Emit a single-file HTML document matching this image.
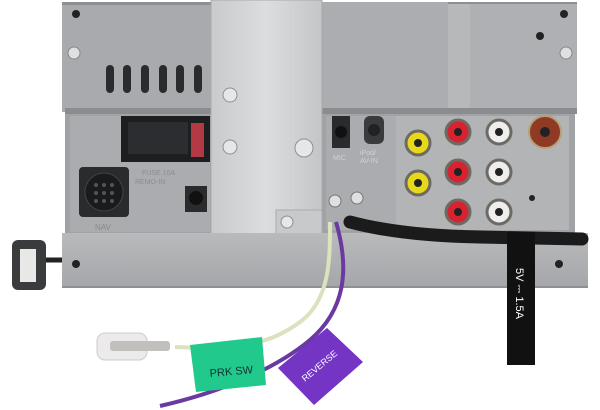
<!DOCTYPE html>
<html><head><meta charset="utf-8"><style>
html,body{margin:0;padding:0;background:#fff;width:600px;height:410px;overflow:hidden}
svg{display:block}
text{font-family:"Liberation Sans",sans-serif}
</style></head><body>
<svg width="600" height="410" viewBox="0 0 600 410" xmlns="http://www.w3.org/2000/svg">
<defs>
<linearGradient id="br" x1="0" x2="1" y1="0" y2="0"><stop offset="0" stop-color="#c9cacc"/><stop offset="0.5" stop-color="#dcdddf"/><stop offset="1" stop-color="#c4c5c7"/></linearGradient>
<linearGradient id="bar" x1="0" x2="0" y1="0" y2="1"><stop offset="0" stop-color="#b8babc"/><stop offset="1" stop-color="#a4a6a9"/></linearGradient>
</defs>
<!-- top chassis -->
<rect x="62" y="2" width="515" height="110" fill="#a8aaad"/>
<rect x="62" y="2" width="515" height="3" fill="#8d8f92"/>
<rect x="322" y="2" width="126" height="110" fill="#abadb0"/>
<rect x="448" y="4" width="22" height="106" fill="#b6b8ba"/>
<rect x="470" y="4" width="107" height="106" fill="#aeb0b3"/>
<rect x="322" y="108" width="255" height="6" fill="#8a8c8e"/>
<rect x="65" y="108" width="146" height="6" fill="#8a8c8e"/>
<!-- vents -->
<g fill="#2a2b2d">
<rect x="106" y="65" width="8" height="28" rx="4"/><rect x="123" y="65" width="8" height="28" rx="4"/><rect x="141" y="65" width="8" height="28" rx="4"/><rect x="159" y="65" width="8" height="28" rx="4"/><rect x="176" y="65" width="8" height="28" rx="4"/><rect x="194" y="65" width="8" height="28" rx="4"/>
</g>
<circle cx="76" cy="14" r="4" fill="#222"/><circle cx="564" cy="14" r="4" fill="#222"/><circle cx="540" cy="36" r="4" fill="#222"/>
<circle cx="74" cy="53" r="6" fill="#dfe0e2" stroke="#888"/><circle cx="566" cy="53" r="6" fill="#dfe0e2" stroke="#888"/>
<!-- lower panel -->
<rect x="65" y="114" width="510" height="120" fill="#a0a2a5"/>
<rect x="70" y="116" width="140" height="116" fill="#aaacaf"/>
<rect x="396" y="116" width="173" height="114" fill="#b2b4b6"/>
<rect x="326" y="116" width="70" height="114" fill="#aaacaf"/>
<!-- black connector -->
<rect x="121" y="116" width="89" height="46" fill="#1d1e20"/>
<rect x="128" y="122" width="60" height="32" fill="#2c2d30"/>
<rect x="191" y="123" width="13" height="34" fill="#b33a45"/>
<!-- NAV -->
<rect x="79" y="167" width="50" height="50" rx="4" fill="#2a2b2d"/>
<circle cx="104" cy="192" r="19" fill="#1a1b1d" stroke="#444"/>
<g fill="#555"><circle cx="96" cy="185" r="2"/><circle cx="104" cy="185" r="2"/><circle cx="112" cy="185" r="2"/><circle cx="96" cy="193" r="2"/><circle cx="104" cy="193" r="2"/><circle cx="112" cy="193" r="2"/><circle cx="96" cy="201" r="2"/><circle cx="104" cy="201" r="2"/><circle cx="112" cy="201" r="2"/></g>
<text x="95" y="230" font-size="8" fill="#888">NAV</text>
<text x="142" y="175" font-size="7" fill="#8a8c8f">FUSE 10A</text>
<text x="135" y="184" font-size="7" fill="#8a8c8f">REMO-IN</text>
<rect x="185" y="186" width="22" height="26" fill="#2a2b2d"/><circle cx="196" cy="198" r="7" fill="#111"/>
<!-- bracket -->
<rect x="211" y="0" width="111" height="235" fill="url(#br)" stroke="#a8a9ab"/>
<rect x="276" y="210" width="46" height="25" fill="#c8c9cb" stroke="#aaa"/>
<g fill="#e6e7e9" stroke="#8d8f92"><circle cx="230" cy="95" r="7"/><circle cx="230" cy="147" r="7"/><circle cx="304" cy="148" r="9"/><circle cx="287" cy="222" r="6"/></g>
<!-- jacks -->
<rect x="332" y="116" width="18" height="32" fill="#2a2b2d"/><circle cx="341" cy="132" r="6" fill="#111"/>
<rect x="364" y="116" width="20" height="28" rx="6" fill="#3a3b3d"/><circle cx="374" cy="130" r="6" fill="#222"/>
<text x="333" y="160" font-size="7" fill="#d0d1d3">MIC</text>
<text x="360" y="155" font-size="7" fill="#d0d1d3">iPod/</text>
<text x="360" y="163" font-size="7" fill="#d0d1d3">AV-IN</text>
<!-- RCA -->
<g stroke="#6d6a64" stroke-width="3">
<circle cx="418" cy="143" r="12" fill="#e8d81a"/><circle cx="418" cy="183" r="12" fill="#e8d81a"/>
<circle cx="458" cy="132" r="12" fill="#d82230"/><circle cx="458" cy="172" r="12" fill="#d82230"/><circle cx="458" cy="212" r="12" fill="#d82230"/>
<circle cx="499" cy="132" r="12" fill="#eeeeef"/><circle cx="499" cy="172" r="12" fill="#eeeeef"/><circle cx="499" cy="212" r="12" fill="#eeeeef"/>
</g>
<circle cx="545" cy="132" r="16" fill="#8e3a24" stroke="#b89f7a" stroke-width="2"/><circle cx="545" cy="132" r="5" fill="#222"/>
<g fill="#222"><circle cx="418" cy="143" r="4"/><circle cx="418" cy="183" r="4"/><circle cx="458" cy="132" r="4"/><circle cx="458" cy="172" r="4"/><circle cx="458" cy="212" r="4"/><circle cx="499" cy="132" r="4"/><circle cx="499" cy="172" r="4"/><circle cx="499" cy="212" r="4"/><circle cx="532" cy="198" r="3"/></g>
<!-- ground screws -->
<circle cx="335" cy="201" r="6" fill="#dfe0e2" stroke="#777"/><circle cx="357" cy="198" r="6" fill="#dfe0e2" stroke="#777"/>
<!-- bottom bar -->
<rect x="62" y="233" width="526" height="55" fill="url(#bar)"/>
<rect x="62" y="286" width="526" height="2" fill="#8e9093"/>
<circle cx="76" cy="264" r="4" fill="#222"/><circle cx="559" cy="264" r="4" fill="#222"/>
<!-- cable -->
<path d="M350 222 C380 230,420 236,480 237 L582 239" stroke="#1b1b1c" stroke-width="13" fill="none" stroke-linecap="round"/>
<!-- tag -->
<rect x="507" y="232" width="28" height="133" fill="#111"/>
<text transform="translate(516,268) rotate(90)" font-size="11" fill="#fff">5V ⎓ 1.5A</text>
<!-- USB -->
<line x1="40" y1="260" x2="62" y2="260" stroke="#222" stroke-width="5"/>
<rect x="12" y="240" width="34" height="50" rx="6" fill="#3a3b3d"/>
<rect x="20" y="249" width="16" height="33" fill="#e8e8e6"/>
<!-- wires -->
<path d="M330 222 C330 260,330 300,300 322 C285 333,270 340,250 344 C220 350,200 348,175 347" stroke="#dbe2bd" stroke-width="4" fill="none"/>
<path d="M336 222 C350 270,345 310,310 340 C280 365,230 390,160 406" stroke="#6a3aa0" stroke-width="4" fill="none"/>
<!-- fuse connector -->
<rect x="97" y="333" width="50" height="27" rx="8" fill="#eceaea" stroke="#ccc"/>
<rect x="110" y="341" width="60" height="10" rx="3" fill="#c2c0bd"/>
<!-- green tag -->
<polygon points="190,345 262,337 266,385 196,392" fill="#22c98c"/>
<text transform="translate(210,377) rotate(-5)" font-size="11" fill="#133">PRK SW</text>
<!-- purple tag -->
<polygon points="278,368 327,328 363,362 314,405" fill="#7434c4"/>
<text transform="translate(305,382) rotate(-40)" font-size="9" fill="#fff">REVERSE</text>
</svg>
</body></html>
